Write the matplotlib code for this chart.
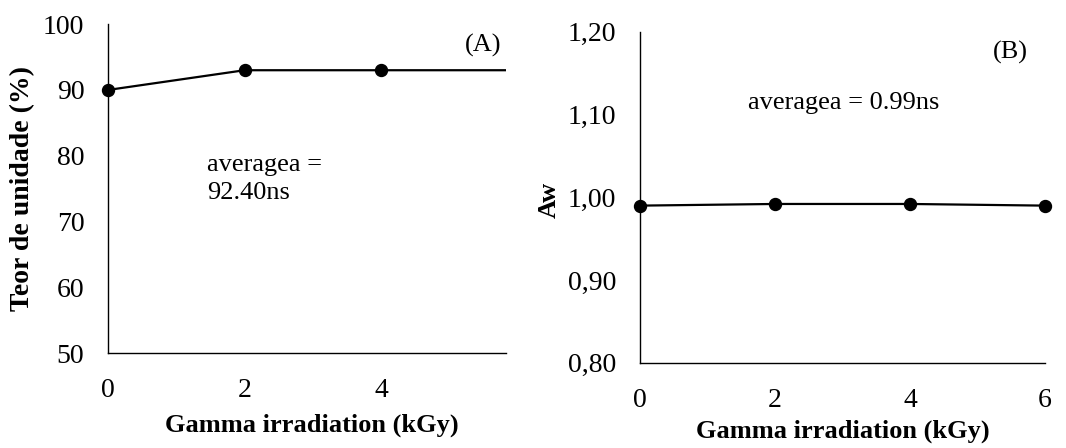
import matplotlib
matplotlib.use("Agg")
import matplotlib.pyplot as plt
from matplotlib.transforms import Bbox, TransformedBbox

plt.rcParams['font.family'] = ['Liberation Serif', 'DejaVu Serif']

dose = [0, 2, 4, 6]
moisture = [90, 93, 93, 93]
aw = [0.990, 0.992, 0.992, 0.990]

yticks_a = [50, 60, 70, 80, 90, 100]
yticks_b = [0.80, 0.90, 1.00, 1.10, 1.20]
ylabels_b = ["0,80", "0,90", "1,00", "1,10", "1,20"]
xticks_a = [0, 2, 4]
xticks_b = [0, 2, 4, 6]

TICK_FS = 20
LABEL_FS = 19
TEXT_FS = 19

fig = plt.figure(figsize=(10.66, 4.48), dpi=100)
axA = fig.add_axes([0.1013, 0.212, 0.3734, 0.734])
axB = fig.add_axes([0.6004, 0.190, 0.3799, 0.739])

for ax in (axA, axB):
    for s in ('top', 'right'):
        ax.spines[s].set_visible(False)
    for s in ('left', 'bottom'):
        ax.spines[s].set_color('black')
        ax.spines[s].set_linewidth(1.0)
    ax.tick_params(length=0, labelsize=TICK_FS, colors='black')
    ax.tick_params(axis='y', pad=17)
    ax.tick_params(axis='x', pad=18)

lineA, = axA.plot(dose, moisture, color='black', lw=1.6, marker='o', ms=8.6, zorder=3)
lineA.set_clip_box(TransformedBbox(Bbox([[-0.1, -0.1], [1.0, 1.1]]), axA.transAxes))
axA.set_xlim(0, 5.83)
axA.set_ylim(50, 100)
axA.set_yticks(yticks_a)
axA.set_xticks(xticks_a)
axA.set_ylabel("Teor de unidade (%)", fontsize=20, fontweight='bold', va='center')
axA.yaxis.set_label_coords(-0.2136, 0.5)
axA.set_xlabel("Gamma irradiation (kGy)", fontsize=LABEL_FS, fontweight='bold', va='center')
axA.xaxis.set_label_coords(0.513, -0.219)
axA.text(0.942, 0.936, "(A)", transform=axA.transAxes, fontsize=TEXT_FS, ha='center', va='center')
axA.text(0.249, 0.53, "averagea =\n92.40ns", transform=axA.transAxes, fontsize=TEXT_FS,
         ha='left', va='center', linespacing=1.35)

axB.plot(dose, aw, color='black', lw=1.6, marker='o', ms=8.6, clip_on=False, zorder=3)
axB.set_xlim(0, 6)
axB.set_ylim(0.80, 1.20)
axB.set_yticks(yticks_b)
axB.set_yticklabels(ylabels_b)
axB.set_xticks(xticks_b)
axB.set_ylabel("Aw", fontsize=LABEL_FS, fontweight='bold', va='center')
axB.yaxis.set_label_coords(-0.225, 0.493)
axB.set_xlabel("Gamma irradiation (kGy)", fontsize=LABEL_FS, fontweight='bold', va='center')
axB.xaxis.set_label_coords(0.5, -0.208)
axB.text(0.914, 0.939, "(B)", transform=axB.transAxes, fontsize=TEXT_FS, ha='center', va='center')
axB.text(0.267, 0.785, "averagea = 0.99ns", transform=axB.transAxes, fontsize=TEXT_FS,
         ha='left', va='center')

fig.savefig("out.png", dpi=100)
